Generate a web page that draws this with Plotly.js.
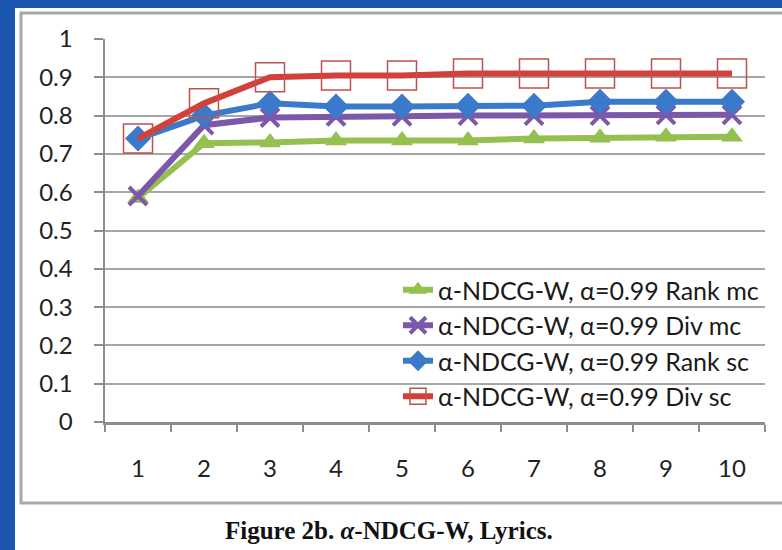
<!DOCTYPE html>
<html>
<head>
<meta charset="utf-8">
<script src="https://cdn.plot.ly/plotly-3.0.1.min.js"></script>
<style>html,body{margin:0;padding:0;background:#1b56ae;}#chart{width:782px;height:550px;}</style>
</head>
<body>
<div id="chart"></div>
<script>
const categories = ['1','2','3','4','5','6','7','8','9','10'];
const rankMc = [0.585, 0.728, 0.730, 0.735, 0.735, 0.735, 0.740, 0.742, 0.745, 0.745];
const divMc  = [0.590, 0.775, 0.795, 0.798, 0.798, 0.800, 0.800, 0.800, 0.802, 0.802];
const rankSc = [0.740, 0.800, 0.832, 0.824, 0.824, 0.826, 0.826, 0.836, 0.836, 0.836];
const divSc  = [0.740, 0.832, 0.900, 0.905, 0.905, 0.910, 0.910, 0.910, 0.910, 0.910];
const seriesNames = ['α-NDCG-W, α=0.99 Rank mc','α-NDCG-W, α=0.99 Div mc','α-NDCG-W, α=0.99 Rank sc','α-NDCG-W, α=0.99 Div sc'];
const yTicks = [0,0.1,0.2,0.3,0.4,0.5,0.6,0.7,0.8,0.9,1];
const caption = '<b>Figure 2b. <i>α</i>-NDCG-W, Lyrics.</b>';

// plot area in pixels
const L = 105, R = 765, T = 39, B = 422;
const px = X => (X - L) / (R - L);
const py = Y => (B - Y) / (B - T);

const traces = [
  {x: categories, y: rankMc, name: seriesNames[0], mode: 'lines+markers',
   line: {color: '#94c04f', width: 6},
   marker: {symbol: 'triangle-up', size: 19, color: '#94c04f'}},
  {x: categories, y: divMc, name: seriesNames[1], mode: 'lines+markers',
   line: {color: '#7b58aa', width: 6},
   marker: {symbol: 'x-thin', size: 18, color: '#7b58aa', line: {color: '#7b58aa', width: 4}}},
  {x: categories, y: rankSc, name: seriesNames[2], mode: 'lines+markers',
   line: {color: '#3b7acb', width: 6},
   marker: {symbol: 'diamond', size: 20, color: '#3b7acb'}},
  {x: categories, y: divSc, name: seriesNames[3], mode: 'lines+markers',
   line: {color: '#d43f3a', width: 6},
   marker: {symbol: 'square-open', size: 29, color: '#c0504d', line: {color: '#c0504d', width: 1.5}}}
];

const layout = {
  width: 782, height: 550,
  paper_bgcolor: '#1b56ae',
  plot_bgcolor: 'rgba(0,0,0,0)',
  margin: {l: L, r: 782 - R, t: T, b: 550 - B, pad: 0},
  showlegend: true,
  legend: {
    x: px(398), y: py(267), xanchor: 'left', yanchor: 'top',
    bgcolor: 'rgba(0,0,0,0)', borderwidth: 0,
    font: {family: 'Lato, sans-serif', size: 25, color: '#1a1a1a'},
    tracegroupgap: 0
  },
  xaxis: {
    type: 'category', tickson: 'boundaries', range: [-0.5, 9.5], automargin: false,
    showgrid: false, zeroline: false,
    showline: true, linecolor: '#8c8c8c', linewidth: 2.5,
    ticks: 'outside', ticklen: 7, tickwidth: 2, tickcolor: '#8c8c8c',
    ticklabelstandoff: 24,
    tickfont: {family: 'Lato, sans-serif', size: 24, color: '#222'},
    fixedrange: true
  },
  yaxis: {
    range: [0, 1], automargin: false, tickvals: yTicks, ticktext: yTicks.map(v => String(v)),
    showgrid: true, gridcolor: '#a6a6a6', gridwidth: 2,
    zeroline: false,
    showline: true, linecolor: '#8c8c8c', linewidth: 2.5,
    ticks: 'outside', ticklen: 9, tickwidth: 2, tickcolor: '#8c8c8c',
    ticklabelstandoff: 16,
    tickfont: {family: 'Lato, sans-serif', size: 24, color: '#222'},
    fixedrange: true
  },
  shapes: [
    {type: 'rect', xref: 'paper', yref: 'paper', layer: 'below',
     x0: px(15), x1: px(800), y0: py(560), y1: py(8),
     fillcolor: '#ffffff', line: {width: 0}},
    {type: 'rect', xref: 'paper', yref: 'paper', layer: 'below',
     x0: px(21), x1: px(800), y0: py(503), y1: py(13),
     fillcolor: 'rgba(0,0,0,0)', line: {color: '#a8a8a8', width: 3}}
  ],
  annotations: [
    {text: caption, xref: 'paper', yref: 'paper', x: px(389), y: py(530),
     xanchor: 'center', yanchor: 'middle', showarrow: false,
     font: {family: '"Liberation Serif", serif', size: 25, color: '#111'}}
  ]
};

Plotly.newPlot('chart', traces, layout, {displayModeBar: false, staticPlot: true});
</script>
</body>
</html>
